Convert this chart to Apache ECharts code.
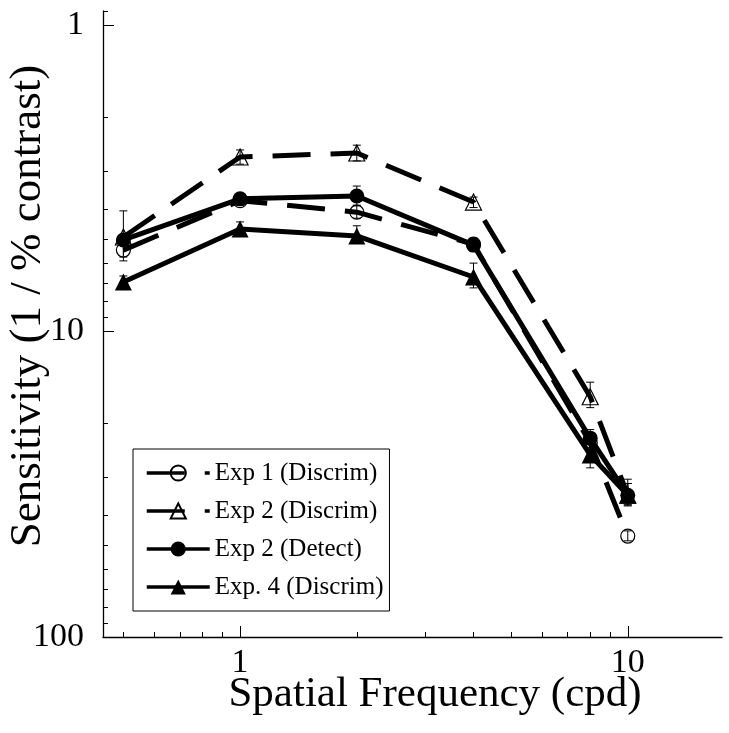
<!DOCTYPE html>
<html>
<head>
<meta charset="utf-8">
<script src="https://cdn.jsdelivr.net/npm/echarts@6/dist/echarts.min.js"></script>
<style>
html,body{margin:0;padding:0;background:#fff;}
#chart{width:729px;height:733px;}
</style>
</head>
<body>
<div id="chart"></div>
<script>
// ---- data ----
const freqs = [0.5, 1, 2, 4, 8, 10];
const seriesNames = ['Exp 1 (Discrim)', 'Exp 2 (Discrim)', 'Exp 2 (Detect)', 'Exp. 4 (Discrim)'];
const exp1Discrim = [5.44, 3.75, 4.09, 5.2, 23.2, 46.8];
const exp2Discrim = [4.93, 2.70, 2.62, 3.79, 16.4, 34.4];
const exp2Detect  = [5.04, 3.70, 3.62, 5.24, 22.4, 34.4];
const exp4Discrim = [6.92, 4.64, 4.89, 6.66, 25.4, 34.4];
const exp1Lo = [5.15, 3.62, 3.88, 5.0, 22.0, 45.0];
const exp1Hi = [5.73, 3.88, 4.28, 5.4, 24.5, 48.5];
const exp2DiscrimLo = [4.05, 2.56, 2.47, 3.65, 14.7, 30.5];
const exp2DiscrimHi = [5.9, 2.85, 2.78, 3.95, 17.8, 37.3];
const exp2DetectLo = [4.85, 3.58, 3.36, 4.97, 21.0, 31.5];
const exp2DetectHi = [5.25, 3.82, 3.9, 5.5, 24.0, 37.0];
const exp4Lo = [6.61, 4.40, 4.53, 6.00, 23.5, 31.5];
const exp4Hi = [7.25, 4.90, 5.16, 7.23, 28.0, 37.0];
const xMajorTicks = [1, 10];
const xMinorTicks = [0.5, 0.6, 0.7, 0.8, 0.9, 2, 3, 4, 5, 6, 7, 8, 9];
const yMajorTicks = [1, 10, 100];
const yMinorTicks = [0.9, 2, 3, 4, 5, 6, 7, 8, 9, 20, 30, 40, 50, 60, 70, 80, 90];
const xTitle = 'Spatial Frequency (cpd)';
const yTitle = 'Sensitivity (1 / % contrast)';

// ---- chart ----
const FONT = '"Liberation Serif", "Times New Roman", serif';
const X_MIN = 0.443, X_MAX = 17.5, Y_MIN = 0.9, Y_MAX = 100;

function pairs(vals){ return freqs.map((f,i)=>[f, vals[i]]); }
function errPairs(lo, hi){ return freqs.map((f,i)=>[f, lo[i], hi[i]]); }

function errRender(params, api){
  const x = api.value(0), lo = api.value(1), hi = api.value(2);
  const p1 = api.coord([x, lo]), p2 = api.coord([x, hi]);
  const w = 4;
  const st = {stroke:'#000', lineWidth:1};
  return {type:'group', children:[
    {type:'line', shape:{x1:p1[0], y1:p1[1], x2:p2[0], y2:p2[1]}, style:st},
    {type:'line', shape:{x1:p1[0]-w, y1:p1[1], x2:p1[0]+w, y2:p1[1]}, style:st},
    {type:'line', shape:{x1:p2[0]-w, y1:p2[1], x2:p2[0]+w, y2:p2[1]}, style:st}
  ]};
}
function errSeries(name, lo, hi){
  return {type:'custom', name:name, xAxisIndex:0, yAxisIndex:0, renderItem:errRender,
    data:errPairs(lo, hi), encode:{x:0, y:[1,2]}, z:3, silent:true, clip:false};
}

const DASH = [38, 20];
const chart = echarts.init(document.getElementById('chart'), null, {renderer:'canvas'});
const option = {
  backgroundColor:'#fff',
  animation:false,
  grid:{left:103, right:7, top:11, bottom:96, containLabel:false},
  xAxis:[
    {type:'log', logBase:10, min:X_MIN, max:X_MAX, position:'bottom',
     axisLine:{show:true, lineStyle:{color:'#000', width:1.3}},
     axisTick:{show:true, inside:true, length:11, customValues:xMajorTicks, lineStyle:{color:'#000', width:1}},
     axisLabel:{show:true, customValues:xMajorTicks, margin:9, color:'#000', fontFamily:FONT, fontSize:34},
     splitLine:{show:false}, minorTick:{show:false}},
    {type:'log', logBase:10, min:X_MIN, max:X_MAX, position:'bottom',
     axisLine:{show:false},
     axisTick:{show:true, inside:true, length:5, customValues:xMinorTicks, lineStyle:{color:'#000', width:1}},
     axisLabel:{show:false}, splitLine:{show:false}}
  ],
  yAxis:[
    {type:'log', logBase:10, min:Y_MIN, max:Y_MAX, inverse:true, position:'left',
     axisLine:{show:true, lineStyle:{color:'#000', width:1.3}},
     axisTick:{show:true, inside:true, length:11, customValues:yMajorTicks, lineStyle:{color:'#000', width:1}},
     axisLabel:{show:true, customValues:yMajorTicks, margin:19, color:'#000', fontFamily:FONT, fontSize:34},
     splitLine:{show:false}},
    {type:'log', logBase:10, min:Y_MIN, max:Y_MAX, inverse:true, position:'left',
     axisLine:{show:false},
     axisTick:{show:true, inside:true, length:5, customValues:yMinorTicks, lineStyle:{color:'#000', width:1}},
     axisLabel:{show:false}, splitLine:{show:false}}
  ],
  legend:{
    data:seriesNames, orient:'vertical', left:133, top:449,
    padding:[10, 6, 10, 12], itemGap:10, itemWidth:63, itemHeight:19,
    borderColor:'#000', borderWidth:1, backgroundColor:'#fff',
    lineStyle:{width:3.5},
    textStyle:{color:'#000', fontFamily:FONT, fontSize:25, lineHeight:28},
    selectedMode:false
  },
  graphic:[
    {type:'text', x:28, y:306, rotation:Math.PI/2,
     style:{text:yTitle, font:'45px ' + FONT, fill:'#000', textAlign:'center', textVerticalAlign:'middle'}},
    {type:'text', x:435, y:695,
     style:{text:xTitle, font:'43px ' + FONT, fill:'#000', textAlign:'center', textVerticalAlign:'middle'}}
  ],
  series:[
    errSeries('e1', exp1Lo, exp1Hi),
    errSeries('e2', exp2DiscrimLo, exp2DiscrimHi),
    errSeries('e3', exp2DetectLo, exp2DetectHi),
    errSeries('e4', exp4Lo, exp4Hi),
    {type:'line', name:seriesNames[0], data:pairs(exp1Discrim), symbol:'circle', symbolSize:14,
     lineStyle:{color:'#000', width:5, type:DASH},
     itemStyle:{color:'rgba(255,255,255,0)', borderColor:'#000', borderWidth:1.2}, z:4},
    {type:'line', name:seriesNames[1], data:pairs(exp2Discrim), symbol:'triangle', symbolSize:16,
     lineStyle:{color:'#000', width:5, type:DASH},
     itemStyle:{color:'rgba(255,255,255,0)', borderColor:'#000', borderWidth:1.2}, z:4},
    {type:'line', name:seriesNames[2], data:pairs(exp2Detect), symbol:'circle', symbolSize:15,
     lineStyle:{color:'#000', width:5},
     itemStyle:{color:'#000', borderColor:'#000', borderWidth:0}, z:5},
    {type:'line', name:seriesNames[3], data:pairs(exp4Discrim), symbol:'triangle', symbolSize:17,
     lineStyle:{color:'#000', width:5},
     itemStyle:{color:'#000', borderColor:'#000', borderWidth:0}, z:5}
  ]
};
chart.setOption(option);
</script>
</body>
</html>
